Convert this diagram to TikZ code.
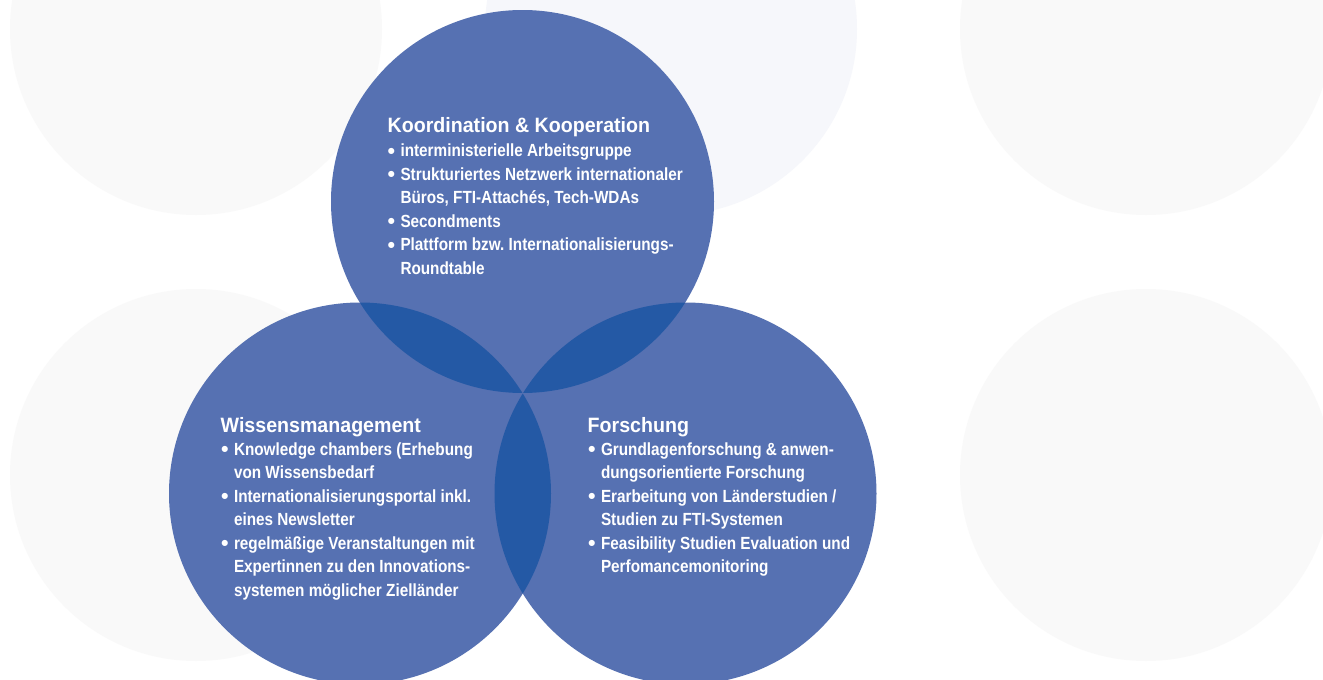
\documentclass[tikz,border=0pt]{standalone}
\usepackage{graphicx}
\usepackage{fontspec}
\setmainfont{Liberation Sans}
\definecolor{bgcircle}{RGB}{249,249,249}
\definecolor{bgtint}{RGB}{246,247,251}
\definecolor{ringblue}{RGB}{86,113,178}
\definecolor{overlapblue}{RGB}{36,89,165}
% bullet, indentation and slightly tall lettering for the list lines
\newcommand{\bul}{\makebox[12.8pt][l]{\raisebox{-1.5pt}{\scalebox{1.4}{•}}}}
\newcommand{\ind}{\hspace*{12.8pt}}
\newcommand{\tall}[1]{\scalebox{1}[1.15]{#1}}
\newcommand{\tallhead}[1]{\scalebox{1}[1.06]{#1}}
\frenchspacing
\begin{document}
\begin{tikzpicture}[x=1pt,y=-1pt,
  bgdisc/.style={fill=bgcircle},
  disc/.style={fill=ringblue},
  lens/.style={fill=overlapblue},
  heading/.style={anchor=base west,inner sep=0pt,text=white,
    font=\fontsize{19.6}{23}\selectfont\bfseries},
  entry/.style={anchor=base west,inner sep=0pt,text=white,
    font=\fontsize{15.3}{18}\selectfont\bfseries}]
\useasboundingbox[fill=white] (0,0) rectangle (1323,680);

% faint background discs
\fill[bgdisc] (196,29) circle[radius=186pt];
\fill[bgtint] (671,29) circle[radius=186pt];
\fill[bgdisc] (1146,29) circle[radius=186pt];
\fill[bgdisc] (196,475) circle[radius=186pt];
\fill[bgdisc] (1146,475) circle[radius=186pt];

% centres of the three main discs
\coordinate (kc) at (522.5,201.5);
\coordinate (wc) at (360,493.5);
\coordinate (fc) at (685.5,493.5);

\fill[disc] (kc) circle[radius=191.5pt];
\fill[disc] (wc) circle[radius=191pt];
\fill[disc] (fc) circle[radius=191pt];

% overlaps
\begin{scope}
  \clip (kc) circle[radius=191.5pt];
  \fill[lens] (wc) circle[radius=191pt];
  \fill[lens] (fc) circle[radius=191pt];
\end{scope}
\begin{scope}
  \clip (wc) circle[radius=191pt];
  \fill[lens] (fc) circle[radius=191pt];
\end{scope}

% Koordination & Kooperation
\node[heading] (k0) at (387.5,132) {\tallhead{Koordination \& Kooperation}};
\node[entry] (k1) at (387.5,156.5) {\bul\tall{interministerielle Arbeitsgruppe}};
\node[entry] (k2) at (387.5,180) {\bul\tall{Strukturiertes Netzwerk internationaler}};
\node[entry] (k3) at (387.5,203.5) {\ind\tall{Büros, FTI-Attachés, Tech-WDAs}};
\node[entry] (k4) at (387.5,227) {\bul\tall{Secondments}};
\node[entry] (k5) at (387.5,250.5) {\bul\tall{Plattform bzw.\ Internationalisierungs-}};
\node[entry] (k6) at (387.5,274) {\ind\tall{Roundtable}};

% Wissensmanagement
\node[heading] (w0) at (220.5,432) {\tallhead{Wissensmanagement}};
\node[entry] (w1) at (221,455) {\bul\tall{Knowledge chambers (Erhebung}};
\node[entry] (w2) at (221,478.5) {\ind\tall{von Wissensbedarf}};
\node[entry] (w3) at (221,502) {\bul\tall{Internationalisierungsportal inkl.}};
\node[entry] (w4) at (221,525.5) {\ind\tall{eines Newsletter}};
\node[entry] (w5) at (221,549) {\bul\tall{regelmäßige Veranstaltungen mit}};
\node[entry] (w6) at (221,572.5) {\ind\tall{Expertinnen zu den Innovations-}};
\node[entry] (w7) at (221,596) {\ind\tall{systemen möglicher Zielländer}};

% Forschung
\node[heading] (f0) at (587.5,432) {\tallhead{Forschung}};
\node[entry] (f1) at (588,455) {\bul\tall{Grundlagenforschung \& anwen-}};
\node[entry] (f2) at (588,478.5) {\ind\tall{dungsorientierte Forschung}};
\node[entry] (f3) at (588,502) {\bul\tall{Erarbeitung von Länderstudien /}};
\node[entry] (f4) at (588,525.5) {\ind\tall{Studien zu FTI-Systemen}};
\node[entry] (f5) at (588,549) {\bul\tall{Feasibility Studien Evaluation und}};
\node[entry] (f6) at (588,572.5) {\ind\tall{Perfomancemonitoring}};
\end{tikzpicture}
\end{document}
